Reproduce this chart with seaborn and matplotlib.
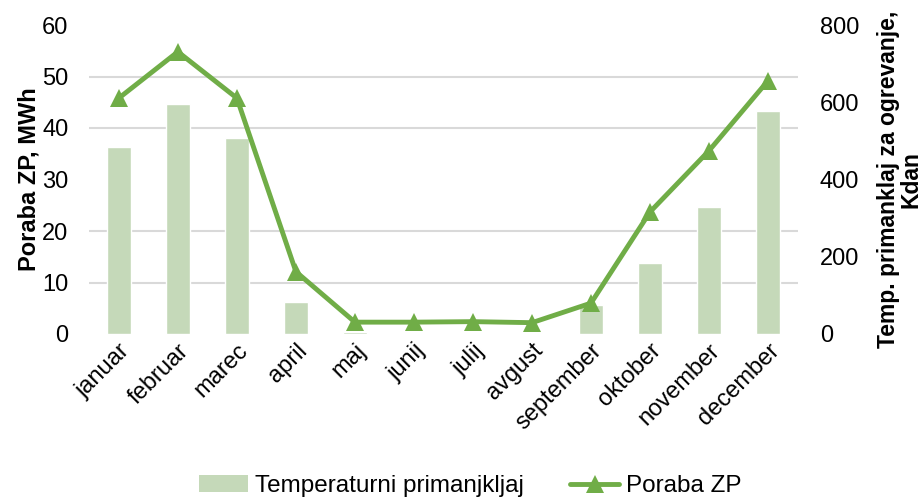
import pandas as pd
import matplotlib
matplotlib.use("Agg")
import matplotlib.pyplot as plt
import seaborn as sns
from matplotlib.lines import Line2D
from matplotlib.patches import Patch
from matplotlib.ticker import MultipleLocator

# Podatki
meseci = ["januar", "februar", "marec", "april", "maj", "junij",
          "julij", "avgust", "september", "oktober", "november", "december"]
primanjkljaj = [483, 596, 508, 82, 5, 0, 0, 0, 75, 184, 328, 578]  # Kdan
poraba = [45.8, 54.8, 45.8, 12.1, 2.3, 2.3, 2.4, 2.2, 6.0, 23.7, 35.6, 49.2]  # MWh

df = pd.DataFrame({"mesec": meseci, "primanjkljaj": primanjkljaj, "poraba": poraba})

sns.set_style("white")
plt.rcParams["font.family"] = ["Liberation Sans", "DejaVu Sans"]
plt.rcParams["text.color"] = "black"
plt.rcParams["axes.labelcolor"] = "black"

barva_crta = "#70ad47"
barva_stolpec = "#c5d9b9"
vel = 17

fig, ax = plt.subplots(figsize=(9.21, 5), dpi=100)
fig.subplots_adjust(left=0.097, right=0.866, top=0.95, bottom=0.332)

ax2 = ax.twinx()

# stolpci na desni osi
sns.barplot(data=df, x="mesec", y="primanjkljaj", ax=ax2, color=barva_stolpec,
            width=0.4, saturation=1, zorder=2)
# crta na levi osi
sns.lineplot(data=df, x="mesec", y="poraba", ax=ax, color=barva_crta, linewidth=3.5,
             marker="^", markersize=13, markeredgewidth=0, sort=False, zorder=5)

# crta nad stolpci
ax.set_zorder(ax2.get_zorder() + 1)
ax.patch.set_visible(False)

ax.set_ylim(0, 60)
ax.set_yticks(range(0, 61, 10))
ax2.set_ylim(0, 800)
ax2.set_yticks(range(0, 801, 200))
ax.set_xlim(-0.5, 11.5)

# mreža po levi osi, a za stolpci
ax.grid(False)
ax2.grid(False)
ax2.yaxis.set_minor_locator(MultipleLocator(800 / 6))
ax2.yaxis.grid(True, which="minor", color="#d9d9d9", linewidth=1.5)
ax2.set_axisbelow(True)

for a in (ax, ax2):
    for s in a.spines.values():
        s.set_visible(False)
    a.tick_params(axis="both", which="both", length=0, labelsize=vel, colors="black")

ax.tick_params(axis="y", pad=15)
ax2.tick_params(axis="y", pad=16)
ax.tick_params(axis="x", pad=4)

ax.set_xticks(range(len(meseci)))
ax.set_xticklabels(meseci, rotation=45, ha="right", rotation_mode="anchor", fontsize=vel)
ax2.set_xlabel("")
ax.set_xlabel("")

ax.set_ylabel("Poraba ZP, MWh", fontsize=vel, fontweight="bold", labelpad=1)
ax2.set_ylabel("Temp. primanklaj za ogrevanje,\nKdan", fontsize=16.5, fontweight="bold",
               labelpad=13, linespacing=0.95)

# legenda
ročke = [Patch(facecolor=barva_stolpec, edgecolor="none"),
         Line2D([0], [0], color=barva_crta, linewidth=3.5, marker="^", markersize=13,
                markeredgewidth=0)]
fig.legend(ročke, ["Temperaturni primanjkljaj", "Poraba ZP"], loc="center",
           bbox_to_anchor=(0.511, 0.028), ncol=2, frameon=False, fontsize=17.5,
           handlelength=2.0, columnspacing=1.9, handletextpad=0.3, labelcolor="black")

fig.savefig("out.png", dpi=100)
